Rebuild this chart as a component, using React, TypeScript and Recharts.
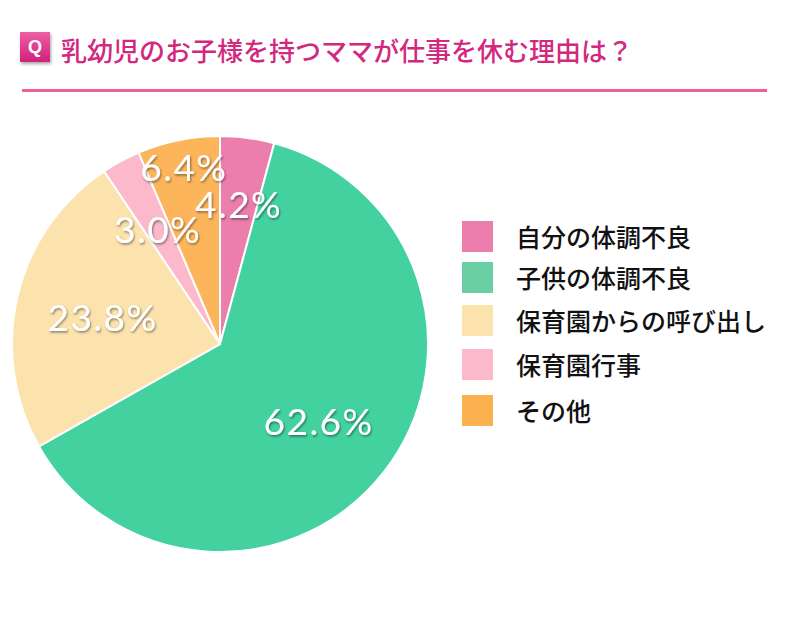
import React from "react";
import { PieChart, Pie, Cell } from "recharts";

const categories = ["自分の体調不良", "子供の体調不良", "保育園からの呼び出し", "保育園行事", "その他"];
const values = [4.2, 62.6, 23.8, 3.0, 6.4];
const labels = ["4.2%", "62.6%", "23.8%", "3.0%", "6.4%"];
const colors = ["#EC7EAE", "#44D1A0", "#FCE3AD", "#FBB9CB", "#FDB55C"];
const legendColors = ["#EC7EAE", "#6BCFA4", "#FCE3AD", "#FBB9CB", "#FDB04E"];
const title = "乳幼児のお子様を持つママが仕事を休む理由は？";

const data = categories.map((name, i) => ({ name, value: values[i], label: labels[i] }));

const labelRadius = [0.68, 0.6, 0.58, 0.63, 0.87];
const legendRowHeights = [40, 42, 44, 45, 46];

const RAD = Math.PI / 180;
const renderLabel = (p: any) => {
  const { cx, cy, midAngle, outerRadius, index } = p;
  const r = outerRadius * labelRadius[index];
  const x = cx + r * Math.cos(-midAngle * RAD);
  const y = cy + r * Math.sin(-midAngle * RAD);
  return (
    <text
      x={x}
      y={y}
      fill="#fff"
      textAnchor="middle"
      dominantBaseline="central"
      fontFamily="Lato, sans-serif"
      fontWeight={400}
      fontSize={37}
      letterSpacing={1.5}
      filter="url(#lblShadow)"
    >
      {data[index].label}
    </text>
  );
};

export default function App() {
  return (
    <div style={{ position: "absolute", left: 0, top: 0, width: 800, height: 617, background: "#fff" }}>
      <div
        style={{
          position: "absolute",
          left: 20,
          top: 32,
          width: 30,
          height: 30,
          background: "linear-gradient(#ee5fa3, #d21f7c)",
          color: "#fff",
          fontFamily: "Arial, sans-serif",
          fontSize: 18,
          fontWeight: "bold",
          display: "flex",
          alignItems: "center",
          justifyContent: "center",
          boxShadow: "1px 2px 3px rgba(0,0,0,0.35)",
        }}
      >
        Q
      </div>
      <div
        style={{
          position: "absolute",
          left: 61,
          top: 30,
          fontFamily: "'Noto Sans CJK JP', sans-serif",
          fontSize: 26,
          fontWeight: 500,
          color: "#D2297F",
          lineHeight: "40px",
          whiteSpace: "nowrap",
        }}
      >
        {title}
      </div>
      <div style={{ position: "absolute", left: 22, top: 89, width: 745, height: 3, background: "#EE5E9C" }} />
      <div style={{ position: "absolute", left: 0, top: 0 }}>
        <PieChart width={800} height={617} margin={{ top: 0, right: 0, bottom: 0, left: 0 }}>
          <defs>
            <filter id="lblShadow" x="-20%" y="-20%" width="140%" height="140%">
              <feDropShadow dx="1" dy="1.5" stdDeviation="1.2" floodColor="#000" floodOpacity="0.45" />
            </filter>
          </defs>
          <Pie
            data={data}
            dataKey="value"
            nameKey="name"
            cx={220}
            cy={344}
            outerRadius={208}
            startAngle={90}
            endAngle={-270}
            stroke="#fff"
            strokeWidth={2}
            label={renderLabel}
            labelLine={false}
            isAnimationActive={false}
          >
            {data.map((d, i) => (
              <Cell key={d.name} fill={colors[i]} />
            ))}
          </Pie>
        </PieChart>
      </div>
      <div
        style={{
          position: "absolute",
          left: 462,
          top: 216,
          fontFamily: "'Noto Sans CJK JP', sans-serif",
        }}
      >
        {categories.map((c, i) => (
          <div key={c} style={{ display: "flex", alignItems: "center", height: legendRowHeights[i] }}>
            <div style={{ width: 31, height: 31, background: legendColors[i], marginRight: 23, flex: "none" }} />
            <span style={{ fontSize: 25, color: "#111", fontWeight: 500, whiteSpace: "nowrap", lineHeight: 1 }}>{c}</span>
          </div>
        ))}
      </div>
    </div>
  );
}
